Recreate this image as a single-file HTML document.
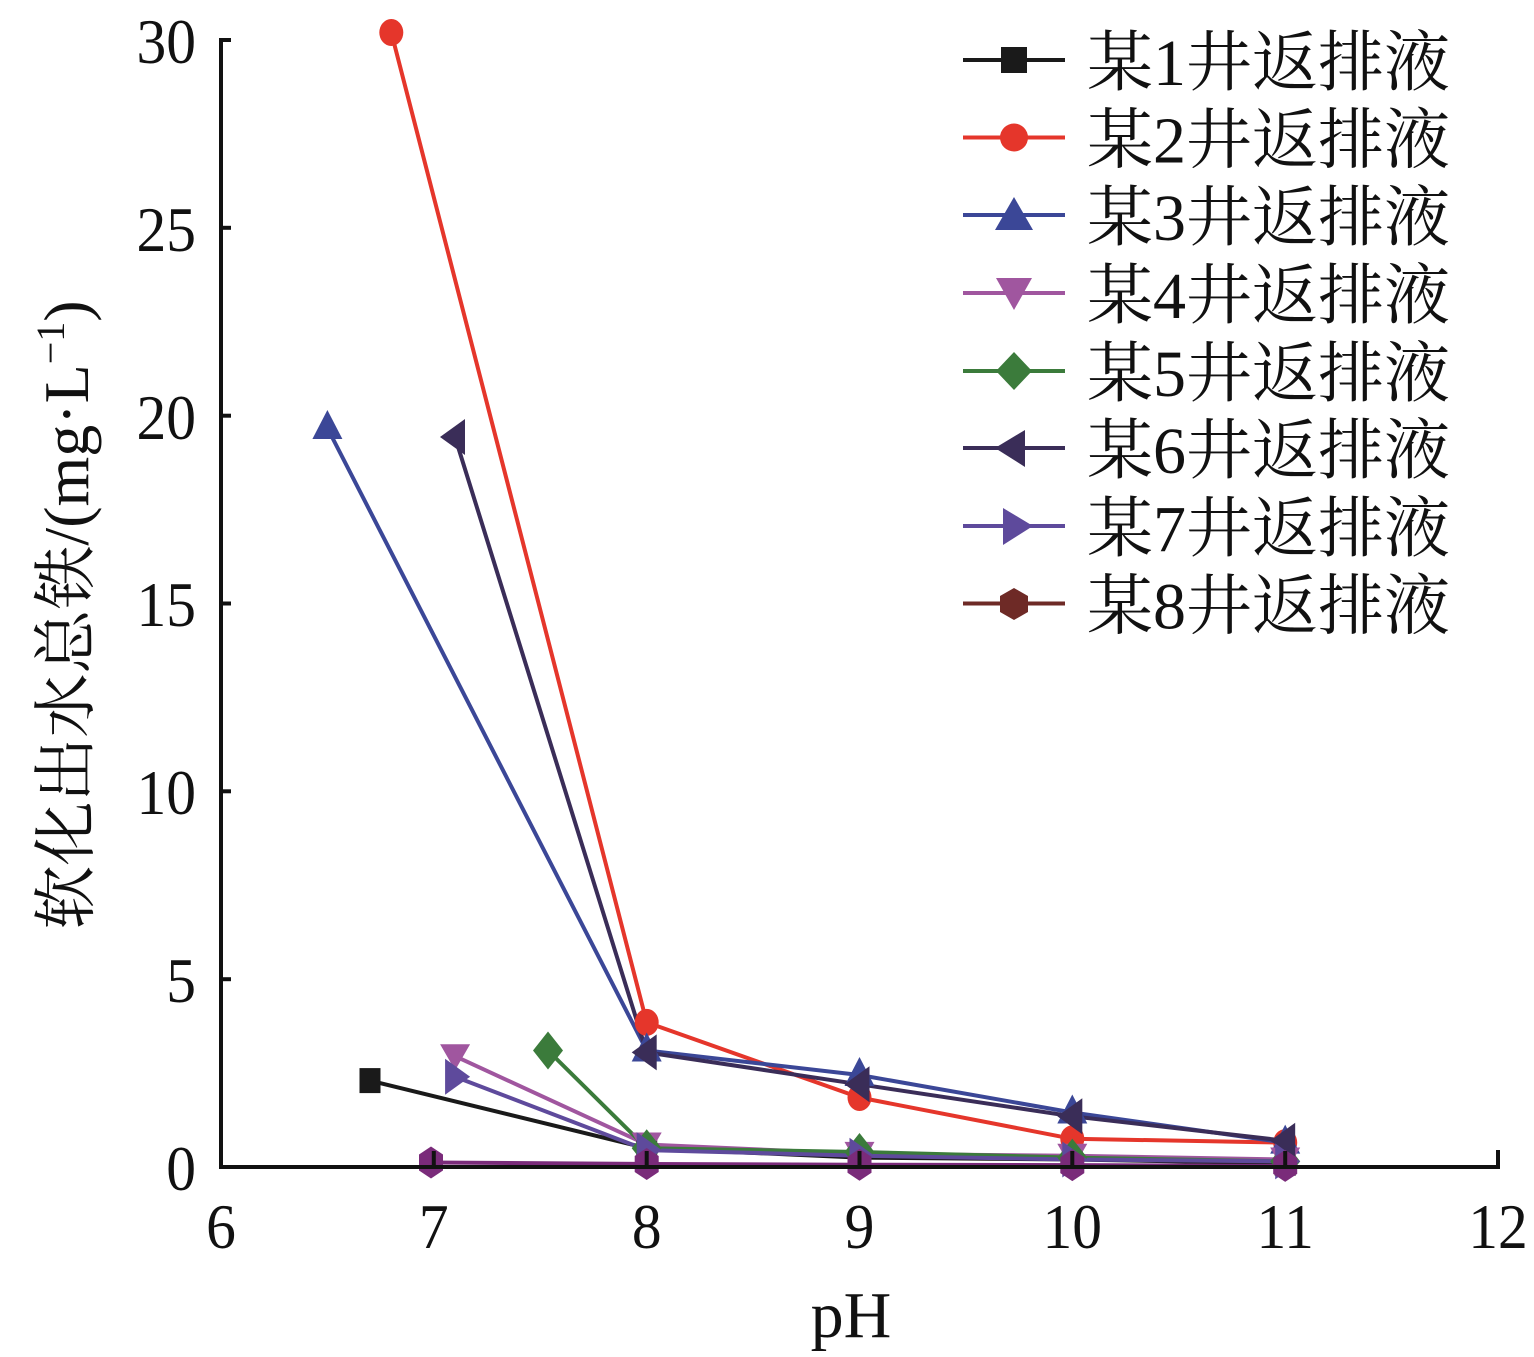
<!DOCTYPE html>
<html><head><meta charset="utf-8"><style>
html,body{margin:0;padding:0;background:#fff;}
svg{display:block;}
.t{font-family:"Liberation Serif","Noto Serif CJK SC",serif;fill:#111;}
.l{font-family:"Liberation Serif",serif;}
</style></head><body>
<svg width="1534" height="1357" viewBox="0 0 1534 1357" xmlns="http://www.w3.org/2000/svg">
<g fill="none" stroke-width="4" stroke-linejoin="round">
<polyline stroke="#1a1a1a" points="370,1080.6 646.7,1148.2 859.5,1157.6 1072.3,1159.5 1285.2,1163.2"/>
<polyline stroke="#e5362b" points="391.3,32.5 646.7,1022.4 859.5,1097.5 1072.3,1138.8 1285.2,1142.6"/>
<polyline stroke="#3b4797" points="327.4,428 646.7,1050.5 859.5,1075 1072.3,1112.5 1285.2,1142.6"/>
<polyline stroke="#a0569f" points="455.1,1056.2 646.7,1144.5 859.5,1153.9 1072.3,1155.7 1285.2,1159.5"/>
<polyline stroke="#3b7b3b" points="548,1050.5 646.7,1148.2 859.5,1152 1072.3,1157.6 1285.2,1161.4"/>
<polyline stroke="#3a2d58" points="455,437 646.7,1052.4 859.5,1084.3 1072.3,1116.3 1285.2,1140.7"/>
<polyline stroke="#5e4a9c" points="455.1,1076.8 646.7,1150.1 859.5,1155.7 1072.3,1159.5 1285.2,1161.4"/>
<polyline stroke="#7a2b7a" points="431,1162.5 646.7,1164 859.5,1164.7 1072.3,1165.1 1285.2,1165.9"/>
</g>
<defs>
<rect id="sq" x="-10.5" y="-12.5" width="21" height="25"/>
<ellipse id="ci" cx="0" cy="0" rx="12" ry="13.5"/>
<polygon id="tu" points="0,-18 -15,11 15,11"/>
<polygon id="td" points="0,14 -15,-12 15,-12"/>
<polygon id="di" points="0,-19 15,0 0,19 -15,0"/>
<polygon id="tl" points="-15,0 10,-18 10,18"/>
<polygon id="tr" points="15,0 -10,-18 -10,18"/>
<polygon id="hx" points="0,-16 12,-8 12,8 0,16 -12,8 -12,-8"/>
</defs>
<g fill="#1a1a1a">
<use href="#sq" x="370" y="1080.6"/><use href="#sq" x="646.7" y="1148.2"/><use href="#sq" x="859.5" y="1157.6"/><use href="#sq" x="1072.3" y="1159.5"/><use href="#sq" x="1285.2" y="1163.2"/>
</g>
<g fill="#e5362b">
<use href="#ci" x="391.3" y="32.5"/><use href="#ci" x="646.7" y="1022.4"/><use href="#ci" x="859.5" y="1097.5"/><use href="#ci" x="1072.3" y="1138.8"/><use href="#ci" x="1285.2" y="1142.6"/>
</g>
<g fill="#3b4797">
<use href="#tu" x="327.4" y="428"/><use href="#tu" x="646.7" y="1050.5"/><use href="#tu" x="859.5" y="1075"/><use href="#tu" x="1072.3" y="1112.5"/><use href="#tu" x="1285.2" y="1142.6"/>
</g>
<g fill="#a0569f">
<use href="#td" x="455.1" y="1056.2"/><use href="#td" x="646.7" y="1144.5"/><use href="#td" x="859.5" y="1153.9"/><use href="#td" x="1072.3" y="1155.7"/><use href="#td" x="1285.2" y="1159.5"/>
</g>
<g fill="#3b7b3b">
<use href="#di" x="548" y="1050.5"/><use href="#di" x="646.7" y="1148.2"/><use href="#di" x="859.5" y="1152"/><use href="#di" x="1072.3" y="1157.6"/><use href="#di" x="1285.2" y="1161.4"/>
</g>
<g fill="#3a2d58">
<use href="#tl" x="455" y="437"/><use href="#tl" x="646.7" y="1052.4"/><use href="#tl" x="859.5" y="1084.3"/><use href="#tl" x="1072.3" y="1116.3"/><use href="#tl" x="1285.2" y="1140.7"/>
</g>
<g fill="#5e4a9c">
<use href="#tr" x="455.1" y="1076.8"/><use href="#tr" x="646.7" y="1150.1"/><use href="#tr" x="859.5" y="1155.7"/><use href="#tr" x="1072.3" y="1159.5"/><use href="#tr" x="1285.2" y="1161.4"/>
</g>
<g fill="#7a2b7a">
<use href="#hx" x="431" y="1162.5"/><use href="#hx" x="646.7" y="1164"/><use href="#hx" x="859.5" y="1164.7"/><use href="#hx" x="1072.3" y="1165.1"/><use href="#hx" x="1285.2" y="1165.9"/>
</g>
<!-- axes -->
<g stroke="#111" stroke-width="4" fill="none">
<polyline points="221,40 221,1167 1498,1167 1498,1150"/>
<line x1="219" y1="40" x2="231" y2="40"/>
<line x1="221" y1="227.8" x2="231" y2="227.8"/>
<line x1="221" y1="415.7" x2="231" y2="415.7"/>
<line x1="221" y1="603.5" x2="231" y2="603.5"/>
<line x1="221" y1="791.3" x2="231" y2="791.3"/>
<line x1="221" y1="979.2" x2="231" y2="979.2"/>
<line x1="433.8" y1="1167" x2="433.8" y2="1151"/>
<line x1="646.7" y1="1167" x2="646.7" y2="1151"/>
<line x1="859.5" y1="1167" x2="859.5" y2="1151"/>
<line x1="1072.3" y1="1167" x2="1072.3" y2="1151"/>
<line x1="1285.2" y1="1167" x2="1285.2" y2="1151"/>
</g>
<!-- y tick labels -->
<g class="t l" font-size="64" text-anchor="end">
<text transform="translate(196,63) scale(0.93,1)">30</text>
<text transform="translate(196,251) scale(0.93,1)">25</text>
<text transform="translate(196,439) scale(0.93,1)">20</text>
<text transform="translate(196,626) scale(0.93,1)">15</text>
<text transform="translate(196,814) scale(0.93,1)">10</text>
<text transform="translate(196,1002) scale(0.93,1)">5</text>
<text transform="translate(196,1190) scale(0.93,1)">0</text>
</g>
<!-- x tick labels -->
<g class="t l" font-size="64" text-anchor="middle">
<text transform="translate(221,1248) scale(0.93,1)">6</text>
<text transform="translate(433.8,1248) scale(0.93,1)">7</text>
<text transform="translate(646.7,1248) scale(0.93,1)">8</text>
<text transform="translate(859.5,1248) scale(0.93,1)">9</text>
<text transform="translate(1072.3,1248) scale(0.93,1)">10</text>
<text transform="translate(1285.2,1248) scale(0.93,1)">11</text>
<text transform="translate(1498,1248) scale(0.93,1)">12</text>
</g>
<text class="t l" font-size="66" text-anchor="middle" x="851" y="1337">pH</text>
<text class="t" font-size="64" text-anchor="middle" transform="translate(88,615) rotate(-90)">软化出水总铁<tspan class="l">/(mg·L</tspan><tspan class="l" font-size="40" dy="-24">−1</tspan><tspan class="l" dy="24">)</tspan></text>
<!-- legend -->
<g stroke-width="4">
<line x1="963" y1="60" x2="1065" y2="60" stroke="#1a1a1a"/>
<line x1="963" y1="137.5" x2="1065" y2="137.5" stroke="#e5362b"/>
<line x1="963" y1="215" x2="1065" y2="215" stroke="#3b4797"/>
<line x1="963" y1="293" x2="1065" y2="293" stroke="#a0569f"/>
<line x1="963" y1="371" x2="1065" y2="371" stroke="#3b7b3b"/>
<line x1="963" y1="448" x2="1065" y2="448" stroke="#3a2d58"/>
<line x1="963" y1="526" x2="1065" y2="526" stroke="#5e4a9c"/>
<line x1="963" y1="603.5" x2="1065" y2="603.5" stroke="#6e2a26"/>
</g>
<rect x="1001" y="47" width="26" height="26" fill="#1a1a1a"/>
<circle cx="1014" cy="137.5" r="14" fill="#e5362b"/>
<polygon points="1014,197 995,230 1033,230" fill="#3b4797"/>
<polygon points="1014,310 996,278 1032,278" fill="#a0569f"/>
<polygon points="1014,352 1032,371 1014,390 996,371" fill="#3b7b3b"/>
<polygon points="995,448 1025,430 1025,467" fill="#3a2d58"/>
<polygon points="1033,526 1003,508 1003,545" fill="#5e4a9c"/>
<polygon points="1014,588 1028,596 1028,612 1014,620 1000,612 1000,596" fill="#6e2a26"/>
<g class="t" font-size="66">
<text x="1087" y="85">某<tspan class="l">1</tspan>井返排液</text>
<text x="1087" y="162.5">某<tspan class="l">2</tspan>井返排液</text>
<text x="1087" y="240">某<tspan class="l">3</tspan>井返排液</text>
<text x="1087" y="318">某<tspan class="l">4</tspan>井返排液</text>
<text x="1087" y="396">某<tspan class="l">5</tspan>井返排液</text>
<text x="1087" y="473">某<tspan class="l">6</tspan>井返排液</text>
<text x="1087" y="551">某<tspan class="l">7</tspan>井返排液</text>
<text x="1087" y="628.5">某<tspan class="l">8</tspan>井返排液</text>
</g>
</svg>
</body></html>
